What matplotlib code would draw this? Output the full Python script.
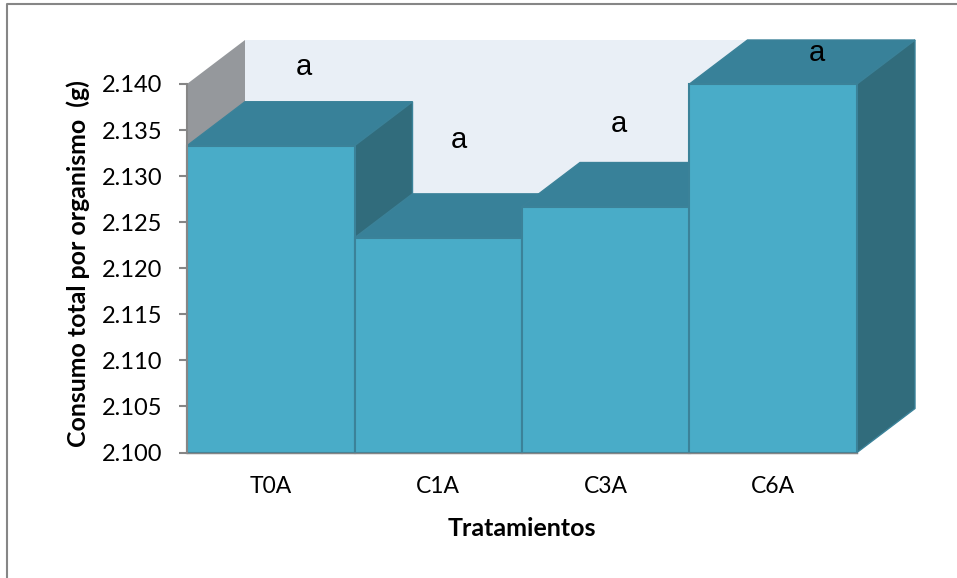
import matplotlib
matplotlib.use("Agg")
import matplotlib.pyplot as plt
from matplotlib.lines import Line2D
from matplotlib.patches import Polygon

# data
treatments = ["T0A", "C1A", "C3A", "C6A"]
consumo = [2.1333, 2.1233, 2.1267, 2.1400]
letters = ["a", "a", "a", "a"]
y_ticks = [2.100, 2.105, 2.110, 2.115, 2.120, 2.125, 2.130, 2.135, 2.140]

W, H = 957, 578
front = "#49ACC8"
top = "#388199"
side = "#316C7C"
edge = "#3B8299"

fig = plt.figure(figsize=(W / 100, H / 100), dpi=100)
# axes box = the front plane of the 3d chart
left, right, y_top, y_bot = 187, 857, 84, 452.5
ax = fig.add_axes([left / W, 1 - y_bot / H, (right - left) / W, (y_bot - y_top) / H])
ax.set_xlim(0, 4)
ax.set_ylim(2.100, 2.140)

# depth of the fake 3d in data units
dx = 58 / ((right - left) / 4)
dy = 44 / ((y_bot - y_top) / 0.04)
y0, y1 = 2.100, 2.140

# outer chart frame, runs off the picture right and bottom
fig.add_artist(Line2D([7.5 / W, 7.5 / W, 1], [0, 1 - 4 / H, 1 - 4 / H], color="#868686", lw=1.5))

# walls
ax.add_patch(Polygon([(dx, y0 + dy), (4 + dx, y0 + dy), (4 + dx, y1 + dy), (dx, y1 + dy)],
                     fc="#E9EFF6", ec="none", clip_on=False, zorder=1))
ax.add_patch(Polygon([(0, y0), (dx, y0 + dy), (dx, y1 + dy), (0, y1)],
                     fc="#95989C", ec="none", clip_on=False, zorder=1))

# bars, left to right so each one hides the side of the previous
for i, v in enumerate(consumo):
    z = 2 + i * 3
    ax.add_patch(Polygon([(i, v), (i + dx, v + dy), (i + 1 + dx, v + dy), (i + 1, v)],
                         fc=top, ec=edge, lw=1, clip_on=False, zorder=z))
    ax.add_patch(Polygon([(i + 1, y0), (i + 1 + dx, y0 + dy), (i + 1 + dx, v + dy), (i + 1, v)],
                         fc=side, ec=edge, lw=1, clip_on=False, zorder=z + 1))
    ax.bar(i + 0.5, v - y0, bottom=y0, width=1, color=front, edgecolor=edge, linewidth=1.5,
           clip_on=False, zorder=z + 2)

ax.set_xticks([i + 0.5 for i in range(len(treatments))])
ax.set_xticklabels(treatments, fontfamily="Lato", fontsize=16.5)
ax.set_yticks(y_ticks)
ax.set_yticklabels(["%.3f" % t for t in y_ticks], fontfamily="Lato", fontsize=17)
ax.tick_params(axis="x", length=0, pad=17)
ax.tick_params(axis="y", length=5.8, width=1.5, color="#868686", pad=12)

for s in ["top", "right"]:
    ax.spines[s].set_visible(False)
ax.spines["left"].set_color("#868686")
ax.spines["left"].set_linewidth(1.5)
ax.spines["left"].set_zorder(30)
ax.spines["bottom"].set_color("#868686")
ax.spines["bottom"].set_linewidth(1)
ax.spines["bottom"].set_zorder(30)
ax.patch.set_visible(False)

# axis titles
fig.text(78 / W, 1 - 264 / H, "Consumo total por organismo  (g)", rotation=90, ha="center", va="center",
         fontfamily="Lato", fontweight="bold", fontsize=17.9)
fig.text(522 / W, 1 - 528 / H, "Tratamientos", ha="center", va="center",
         fontfamily="Lato", fontweight="bold", fontsize=18)

# significance letters
letter_px = [(304, 67), (459, 140), (619, 124), (817, 53)]
for s, (px, py) in zip(letters, letter_px):
    fig.text(px / W, 1 - py / H, s, ha="center", va="center", fontfamily="Liberation Sans",
             fontsize=21, color="black", zorder=50)

fig.savefig("out.png", dpi=100)
